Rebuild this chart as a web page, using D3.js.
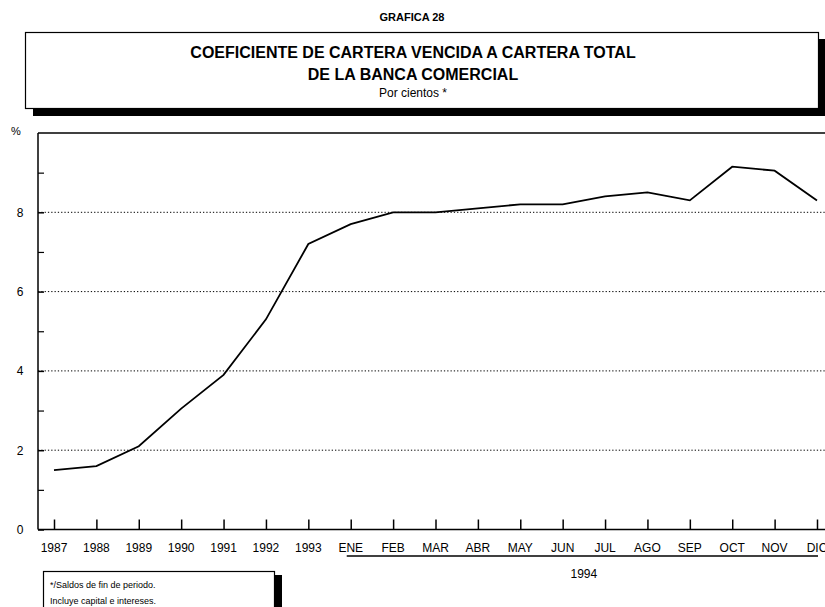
<!DOCTYPE html>
<html>
<head>
<meta charset="utf-8">
<script src="https://cdn.jsdelivr.net/npm/d3@7"></script>
<style>
  body { margin: 0; background: #fff; }
  svg { font-family: "Liberation Sans", Arial, sans-serif; display: block; }
</style>
</head>
<body>
<div id="chart"></div>
<script>
const categories = ["1987", "1988", "1989", "1990", "1991", "1992", "1993",
  "ENE", "FEB", "MAR", "ABR", "MAY", "JUN", "JUL", "AGO", "SEP", "OCT", "NOV", "DIC"];
const values = [1.5, 1.6, 2.1, 3.05, 3.9, 5.3, 7.2,
  7.7, 8.0, 8.0, 8.1, 8.2, 8.2, 8.4, 8.5, 8.3, 9.15, 9.05, 8.3];
const majorTicks = [0, 2, 4, 6, 8];
const minorTicks = [1, 3, 5, 7, 9];
const gridValues = [2, 4, 6, 8];
const months1994 = categories.slice(7);

const W = 825, H = 607;
const svg = d3.select("#chart").append("svg")
  .attr("width", W).attr("height", H);

// Title block
svg.append("text")
  .attr("x", 412).attr("y", 21)
  .attr("text-anchor", "middle")
  .style("font-size", "11px").style("font-weight", "bold")
  .text("GRAFICA 28");

// white box with drop shadow (bottom + right)
svg.append("rect")
  .attr("x", 25.5).attr("y", 32.5).attr("width", 793).attr("height", 76)
  .attr("fill", "#fff").attr("stroke", "#000").attr("stroke-width", 1.2);
svg.append("path")
  .attr("d", "M33,109 H825 V39 H819 V109 Z M33,109 V116 H825 V109 Z")
  .attr("fill", "#000");

svg.append("text")
  .attr("x", 413).attr("y", 58)
  .attr("text-anchor", "middle")
  .style("font-size", "16px").style("font-weight", "bold")
  .text("COEFICIENTE DE CARTERA VENCIDA A CARTERA TOTAL");
svg.append("text")
  .attr("x", 413).attr("y", 80)
  .attr("text-anchor", "middle")
  .style("font-size", "16px").style("font-weight", "bold")
  .text("DE LA BANCA COMERCIAL");
svg.append("text")
  .attr("x", 413).attr("y", 97)
  .attr("text-anchor", "middle")
  .style("font-size", "12px")
  .text("Por cientos *");

// Plot area
const plotLeft = 38, plotRight = 825, plotTop = 133, plotBottom = 529.5;

const x = d3.scalePoint()
  .domain(categories)
  .range([54, 817]);

const y = d3.scaleLinear()
  .domain([0, 10])
  .range([plotBottom, plotTop]);

// Grid lines
svg.selectAll(".grid")
  .data(gridValues)
  .enter()
  .append("line")
  .attr("x1", plotLeft).attr("x2", plotRight)
  .attr("y1", d => y(d)).attr("y2", d => y(d))
  .attr("stroke", "#000").attr("stroke-width", 1)
  .attr("stroke-dasharray", "1.3,2");

// Frame: top, left
svg.append("line")
  .attr("x1", plotLeft).attr("x2", plotRight).attr("y1", plotTop).attr("y2", plotTop)
  .attr("stroke", "#000").attr("stroke-width", 1.5);
svg.append("line")
  .attr("x1", plotLeft).attr("x2", plotLeft).attr("y1", plotTop).attr("y2", plotBottom)
  .attr("stroke", "#000").attr("stroke-width", 1.5);

// Y axis: ticks inward
const yAxis = svg.append("g")
  .attr("transform", `translate(${plotLeft},0)`)
  .call(d3.axisRight(y).tickValues(majorTicks).tickSize(6).tickFormat(""));
yAxis.select(".domain").remove();
yAxis.selectAll("line").attr("stroke-width", 1.5);
svg.append("g")
  .attr("transform", `translate(${plotLeft},0)`)
  .call(d3.axisRight(y).tickValues(minorTicks).tickSize(6).tickFormat(""))
  .call(g => g.select(".domain").remove())
  .selectAll("line").attr("stroke-width", 1.2);

svg.selectAll(".ylabel")
  .data(majorTicks)
  .enter()
  .append("text")
  .attr("x", 20).attr("y", d => y(d) + 4.5)
  .attr("text-anchor", "middle")
  .style("font-size", "12px")
  .text(d => d);

svg.append("text")
  .attr("x", 16).attr("y", 135)
  .attr("text-anchor", "middle")
  .style("font-size", "11px")
  .text("%");

// X axis: ticks upward
const xAxis = svg.append("g")
  .attr("transform", `translate(0,${plotBottom})`)
  .call(d3.axisTop(x).tickSize(10).tickFormat(""));
xAxis.select(".domain").remove();
xAxis.selectAll("line").attr("stroke-width", 1.5);
svg.append("line")
  .attr("x1", plotLeft).attr("x2", plotRight).attr("y1", plotBottom).attr("y2", plotBottom)
  .attr("stroke", "#000").attr("stroke-width", 1.5);

svg.selectAll(".xlabel")
  .data(categories)
  .enter()
  .append("text")
  .attr("x", d => x(d)).attr("y", 552)
  .attr("text-anchor", "middle")
  .style("font-size", "12px")
  .text(d => d);

// 1994 bracket
svg.append("line")
  .attr("x1", x(months1994[0]) - 4).attr("x2", x(months1994[months1994.length - 1]) + 1)
  .attr("y1", 556).attr("y2", 556)
  .attr("stroke", "#000").attr("stroke-width", 1.5);
svg.append("text")
  .attr("x", (x(months1994[0]) + x(months1994[months1994.length - 1])) / 2)
  .attr("y", 578)
  .attr("text-anchor", "middle")
  .style("font-size", "12px")
  .text("1994");

// Line
const line = d3.line()
  .x((d, i) => x(categories[i]))
  .y(d => y(d));
svg.append("path")
  .datum(values)
  .attr("d", line)
  .attr("fill", "none")
  .attr("stroke", "#000")
  .attr("stroke-width", 1.8)
  .attr("stroke-linejoin", "miter");

// Footnote box
svg.append("rect")
  .attr("x", 48).attr("y", 575).attr("width", 234).attr("height", 40)
  .attr("fill", "#000");
svg.append("rect")
  .attr("x", 43.5).attr("y", 571.5).attr("width", 231).attr("height", 40)
  .attr("fill", "#fff").attr("stroke", "#000").attr("stroke-width", 1.2);
svg.append("text")
  .attr("x", 50).attr("y", 588)
  .style("font-size", "9px")
  .text("*/Saldos de fin de periodo.");
svg.append("text")
  .attr("x", 50).attr("y", 604)
  .style("font-size", "9px")
  .text("Incluye capital e intereses.");
</script>
</body>
</html>
